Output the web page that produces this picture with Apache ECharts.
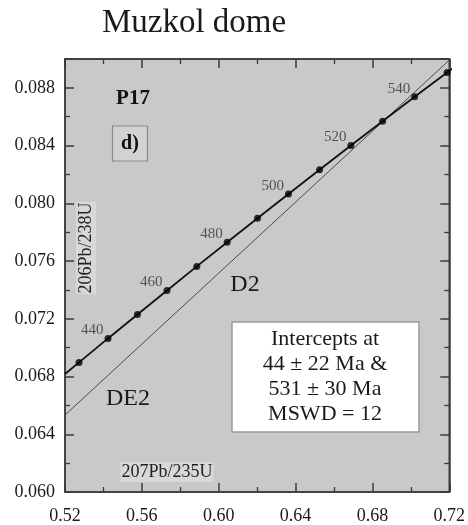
<!DOCTYPE html>
<html>
<head>
<meta charset="utf-8">
<script src="https://cdn.jsdelivr.net/npm/echarts@6/dist/echarts.min.js"></script>
<style>
  html, body { margin: 0; padding: 0; background: #ffffff; }
  #chart { width: 468px; height: 525px; }
</style>
</head>
<body>
<div id="chart"></div>
<script>
// Concordia ages (Ma) and their ratios
const ages = [430, 440, 450, 460, 470, 480, 490, 500, 510, 520, 530, 540, 550];
const pb207u235 = [0.5273, 0.5424, 0.5577, 0.5731, 0.5886, 0.6044, 0.6202, 0.6363, 0.6525, 0.6688, 0.6853, 0.7020, 0.7189];
const pb206u238 = [0.06898, 0.07064, 0.07230, 0.07396, 0.07563, 0.07730, 0.07897, 0.08065, 0.08233, 0.08401, 0.08569, 0.08738, 0.08906];
const labelledAges = [440, 460, 480, 500, 520, 540];

// Concordia curve extended to the frame edges
const concordiaStart = [0.5200, 0.06818];
const concordiaEnd = [0.7274, 0.08991];

// Discordia through the 44 Ma and 531 Ma intercepts
const discordiaX = [0.52, 0.72];
const discordiaY = [0.06533, 0.08992];

// Axis ranges and tick steps
const xRange = [0.52, 0.72];
const xStep = 0.04;
const yRange = [0.060, 0.090];
const yStep = 0.004;

const serif = '"Liberation Serif", "DejaVu Serif", serif';

const dots = ages.map((a, i) => [pb207u235[i], pb206u238[i], a]);
const curve = [concordiaStart].concat(ages.map((a, i) => [pb207u235[i], pb206u238[i]]), [concordiaEnd]);
const discordia = discordiaX.map((x, i) => [x, discordiaY[i]]);

const tickCommon = {
  axisLine: { show: true, lineStyle: { color: '#3a3a3a', width: 1.5 } },
  axisTick: { show: true, inside: true, length: 9, lineStyle: { color: '#3a3a3a', width: 1.5 } },
  minorTick: { show: true, splitNumber: 2, length: 5, lineStyle: { color: '#3a3a3a', width: 1.3 } },
  splitLine: { show: false },
  minorSplitLine: { show: false }
};

function xAxisDef(pos, showLabel) {
  return Object.assign({
    type: 'value', position: pos, min: xRange[0], max: xRange[1], interval: xStep,
    axisLabel: {
      show: showLabel, margin: 15, color: '#1a1a1a', fontFamily: serif, fontSize: 18,
      formatter: v => v.toFixed(2)
    }
  }, tickCommon);
}
function yAxisDef(pos, showLabel) {
  return Object.assign({
    type: 'value', position: pos, min: yRange[0], max: yRange[1], interval: yStep,
    axisLabel: {
      show: showLabel, margin: 10, color: '#1a1a1a', fontFamily: serif, fontSize: 18,
      showMaxLabel: false, formatter: v => v.toFixed(3)
    }
  }, tickCommon);
}

const chart = echarts.init(document.getElementById('chart'), null, { renderer: 'canvas' });
chart.setOption({
  animation: false,
  backgroundColor: '#ffffff',
  grid: {
    left: 65, right: 17, top: 59, bottom: 32,
    show: true, backgroundColor: '#c9c9c9', borderColor: '#3a3a3a', borderWidth: 1.5
  },
  xAxis: [xAxisDef('bottom', true), xAxisDef('top', false)],
  yAxis: [yAxisDef('left', true), yAxisDef('right', false)],
  series: [
    {
      name: 'discordia', type: 'line', data: discordia, showSymbol: false,
      lineStyle: { color: '#4a4a4a', width: 1 }, silent: true, clip: true, z: 2
    },
    {
      name: 'concordia', type: 'line', data: curve, showSymbol: false,
      lineStyle: { color: '#111111', width: 1.8 }, silent: true, clip: true, z: 3
    },
    {
      name: 'ages', type: 'scatter', data: dots, symbol: 'circle', symbolSize: 7,
      itemStyle: { color: '#000000' }, z: 4, clip: false,
      label: {
        show: true, position: 'left', distance: 1, offset: [0, -8],
        color: '#333333', fontFamily: serif, fontSize: 15,
        formatter: p => labelledAges.indexOf(p.value[2]) >= 0 ? String(p.value[2]) : ''
      }
    }
  ],
  graphic: [
    {
      type: 'text', x: 194, y: 23,
      style: { text: 'Muzkol dome', font: '33px ' + serif, fill: '#1a1a1a', textAlign: 'center', textVerticalAlign: 'middle' }
    },
    {
      type: 'text', x: 133, y: 99,
      style: { text: 'P17', font: 'bold 21px ' + serif, fill: '#111', textAlign: 'center', textVerticalAlign: 'middle' }
    },
    {
      type: 'rect', shape: { x: 112.5, y: 126, width: 35, height: 35 },
      style: { fill: '#d2d2d2', stroke: '#8a8a8a', lineWidth: 1.2 }
    },
    {
      type: 'text', x: 130, y: 143.5,
      style: { text: 'd)', font: 'bold 20px ' + serif, fill: '#111', textAlign: 'center', textVerticalAlign: 'middle' }
    },
    {
      type: 'text', x: 86, y: 248, rotation: Math.PI / 2,
      style: {
        text: '206Pb/238U', font: '18px ' + serif, fill: '#222',
        textAlign: 'center', textVerticalAlign: 'middle',
        backgroundColor: '#d8d8d8', padding: [1, 1]
      }
    },
    {
      type: 'text', x: 167, y: 472,
      style: {
        text: '207Pb/235U', font: '18px ' + serif, fill: '#222',
        textAlign: 'center', textVerticalAlign: 'middle',
        backgroundColor: '#d8d8d8', padding: [1, 1]
      }
    },
    {
      type: 'text', x: 245, y: 285,
      style: { text: 'D2', font: '24px ' + serif, fill: '#1a1a1a', textAlign: 'center', textVerticalAlign: 'middle' }
    },
    {
      type: 'text', x: 128, y: 399,
      style: { text: 'DE2', font: '24px ' + serif, fill: '#1a1a1a', textAlign: 'center', textVerticalAlign: 'middle' }
    },
    {
      type: 'rect', shape: { x: 232, y: 322, width: 187, height: 110 },
      style: { fill: '#ffffff', stroke: '#9a9a9a', lineWidth: 1.5 }
    },
    {
      type: 'text', x: 325, y: 377,
      style: {
        text: 'Intercepts at\n44 \u00b1 22 Ma &\n531 \u00b1 30 Ma\nMSWD = 12',
        font: '22px ' + serif, lineHeight: 25, fill: '#1a1a1a',
        textAlign: 'center', textVerticalAlign: 'middle'
      }
    }
  ]
});
</script>
</body>
</html>
